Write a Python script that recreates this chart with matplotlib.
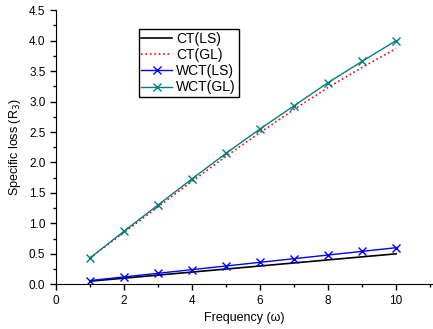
import matplotlib.pyplot as plt
from matplotlib.ticker import MultipleLocator

plt.rcParams['font.family'] = ['Liberation Sans', 'DejaVu Sans']
plt.rcParams['font.size'] = 8.5

freq = [1, 2, 3, 4, 5, 6, 7, 8, 9, 10]
ct_ls = [0.05, 0.10, 0.15, 0.20, 0.25, 0.30, 0.35, 0.40, 0.45, 0.50]
ct_gl = [0.43, 0.85, 1.27, 1.69, 2.10, 2.49, 2.87, 3.23, 3.56, 3.87]
wct_ls = [0.06, 0.12, 0.18, 0.24, 0.30, 0.36, 0.42, 0.48, 0.54, 0.60]
wct_gl = [0.43, 0.87, 1.30, 1.73, 2.15, 2.55, 2.93, 3.31, 3.66, 4.00]

fig = plt.figure(figsize=(4.33, 3.29), dpi=100)
ax = fig.add_axes([0.129, 0.136, 0.869, 0.833])

ax.plot(freq, ct_ls, color='black', linewidth=1.2, label='CT(LS)')
ax.plot(freq, ct_gl, color='red', linestyle=':', linewidth=1.2, label='CT(GL)')
ax.plot(freq, wct_ls, color='blue', linewidth=1.0, marker='x', markersize=6, label='WCT(LS)')
ax.plot(freq, wct_gl, color='#008080', linewidth=1.0, marker='x', markersize=6, label='WCT(GL)')

ax.set_xlim(0, 11.06)
ax.set_ylim(0, 4.5)
ax.xaxis.set_major_locator(MultipleLocator(2))
ax.xaxis.set_minor_locator(MultipleLocator(1))
ax.yaxis.set_major_locator(MultipleLocator(0.5))
ax.yaxis.set_minor_locator(MultipleLocator(0.25))
ax.yaxis.set_major_formatter(plt.FormatStrFormatter('%.1f'))
ax.tick_params(direction='out', length=4, width=1)
ax.tick_params(which='minor', direction='out', length=2.5, width=1)
ax.spines['top'].set_visible(False)
ax.spines['right'].set_visible(False)

ax.set_xlabel('Frequency (ω)', fontsize=9)
ax.set_ylabel('Specific loss (R$_3$)', fontsize=9)

leg = ax.legend(loc='upper left', bbox_to_anchor=(0.22, 0.93), fancybox=False,
                edgecolor='black', framealpha=1, borderpad=0.2, labelspacing=0.15,
                handlelength=2.2, handletextpad=0.3, borderaxespad=0, fontsize=10)
leg.get_frame().set_linewidth(1.0)

plt.savefig('out.png', dpi=100)
